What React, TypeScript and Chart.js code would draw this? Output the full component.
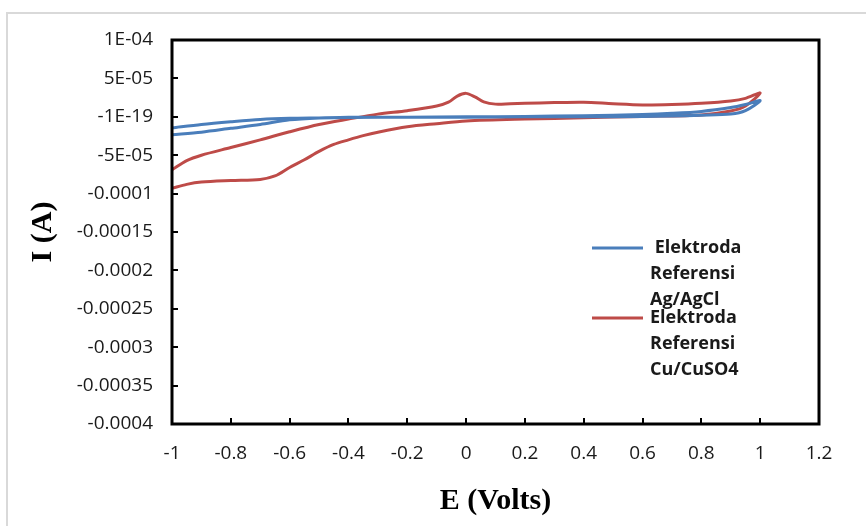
import React, { useEffect, useRef } from "react";
import { Chart, registerables } from "chart.js";

Chart.register(...registerables);

// ---- Data ----
const xTickLabels = ["-1", "-0.8", "-0.6", "-0.4", "-0.2", "0", "0.2", "0.4", "0.6", "0.8", "1", "1.2"];
// bottom -> top
const yTickLabels = ["-0.0004", "-0.00035", "-0.0003", "-0.00025", "-0.0002", "-0.00015", "-0.0001", "-5E-05", "-1E-19", "5E-05", "1E-04"];

const agLegend = [" Elektroda", "Referensi", "Ag/AgCl"];
const cuLegend = ["Elektroda", "Referensi", "Cu/CuSO4"];

// Ag/AgCl cyclic voltammogram (E in V, I in A)
const agE = [-1, -0.9, -0.8, -0.7, -0.6, -0.5, -0.4, -0.3, -0.2, 0, 0.2, 0.4, 0.6, 0.7, 0.8, 0.9, 0.95, 1.0,
  0.95, 0.9, 0.8, 0.7, 0.6, 0.4, 0.2, 0, -0.2, -0.4, -0.5, -0.6, -0.7, -0.8, -0.9, -1];
const agI = [-2.35e-5, -2.0e-5, -1.5e-5, -1.0e-5, -4.0e-6, -1.5e-6, -5e-7, -5e-7, -5e-7, -5e-7, 0, 0, 5e-7, 1e-6, 2e-6, 3.5e-6, 8e-6, 2.1e-5,
  1.6e-5, 1.2e-5, 7e-6, 4.5e-6, 3e-6, 1.5e-6, 5e-7, 0, -5e-7, -1e-6, -1.5e-6, -2e-6, -3.5e-6, -6.5e-6, -1.0e-5, -1.45e-5];

// Cu/CuSO4 cyclic voltammogram
const cuE = [-1, -0.95, -0.9, -0.8, -0.7, -0.65, -0.6, -0.55, -0.5, -0.45, -0.4, -0.35, -0.3, -0.2, -0.1, 0, 0.2, 0.4, 0.6, 0.8, 0.9, 0.95, 1.0,
  0.95, 0.9, 0.8, 0.7, 0.6, 0.5, 0.4, 0.3, 0.2, 0.15, 0.1, 0.06, 0.03, 0, -0.03, -0.06, -0.1, -0.2, -0.3, -0.4, -0.5, -0.6, -0.7, -0.8, -0.9, -0.95, -1];
const cuI = [-9.3e-5, -8.8e-5, -8.5e-5, -8.3e-5, -8.15e-5, -7.7e-5, -6.6e-5, -5.6e-5, -4.5e-5, -3.6e-5, -3.0e-5, -2.45e-5, -2.0e-5, -1.3e-5, -9e-6, -5.5e-6, -3e-6, -1.3e-6, 5e-7, 2.5e-6, 7.5e-6, 1.4e-5, 3.1e-5,
  2.4e-5, 2.05e-5, 1.75e-5, 1.6e-5, 1.55e-5, 1.7e-5, 1.9e-5, 1.85e-5, 1.75e-5, 1.7e-5, 1.65e-5, 1.95e-5, 2.6e-5, 3.05e-5, 2.7e-5, 1.9e-5, 1.4e-5, 8e-6, 3.5e-6, -3e-6, -1.0e-5, -1.95e-5, -3.0e-5, -4.0e-5, -5.0e-5, -5.7e-5, -6.9e-5];

const toPoints = (xs: number[], ys: number[]) => xs.map((x, i) => ({ x, y: ys[i] }));

const BLUE = "#4a7ebb";
const RED = "#be4b48";

const decorPlugin = {
  id: "decor",
  beforeDraw(chart: any) {
    const ctx = chart.ctx;
    ctx.save();
    ctx.fillStyle = "#ffffff";
    ctx.fillRect(0, 0, chart.width, chart.height);
    ctx.strokeStyle = "#d9d9d9";
    ctx.lineWidth = 2;
    ctx.strokeRect(7, 13, chart.width + 20, chart.height + 20);
    ctx.restore();
  },
  afterDraw(chart: any) {
    const ctx = chart.ctx;
    const a = chart.chartArea;
    const xs = chart.scales.x;
    const ys = chart.scales.y;
    ctx.save();
    ctx.strokeStyle = "#000000";
    ctx.lineWidth = 2;
    ctx.beginPath();
    xs.ticks.forEach((t: any) => {
      const px = Math.round(xs.getPixelForValue(t.value));
      ctx.moveTo(px, a.bottom);
      ctx.lineTo(px, a.bottom - 6);
    });
    ys.ticks.forEach((t: any) => {
      const py = Math.round(ys.getPixelForValue(t.value));
      ctx.moveTo(a.left, py);
      ctx.lineTo(a.left + 6, py);
    });
    ctx.stroke();
    ctx.lineWidth = 3;
    ctx.strokeRect(a.left, a.top, a.right - a.left, a.bottom - a.top);

    // legend
    const entries = [
      { lines: agLegend, color: chart.data.datasets[0].borderColor },
      { lines: cuLegend, color: chart.data.datasets[1].borderColor },
    ];
    ctx.font = "bold 18px 'Open Sans'";
    ctx.textBaseline = "middle";
    ctx.textAlign = "left";
    entries.forEach((e, i) => {
      const y0 = 248 + i * 70;
      ctx.strokeStyle = e.color;
      ctx.lineWidth = 3;
      ctx.beginPath();
      ctx.moveTo(592, y0);
      ctx.lineTo(643, y0);
      ctx.stroke();
      ctx.fillStyle = "#1a1a1a";
      e.lines.forEach((ln, j) => ctx.fillText(ln, 650, y0 + j * 26));
    });
    ctx.restore();
  },
};

export default function App() {
  const ref = useRef<HTMLCanvasElement | null>(null);
  useEffect(() => {
    if (!ref.current) return;
    const chart = new Chart(ref.current, {
      type: "scatter",
      data: {
        datasets: [
          {
            label: agLegend.join(" ").trim(),
            data: toPoints(agE, agI),
            showLine: true,
            borderColor: BLUE,
            borderWidth: 3,
            pointRadius: 0,
            tension: 0.3,
          },
          {
            label: cuLegend.join(" "),
            data: toPoints(cuE, cuI),
            showLine: true,
            borderColor: RED,
            borderWidth: 3,
            pointRadius: 0,
            tension: 0.3,
          },
        ],
      },
      options: {
        animation: false,
        responsive: true,
        maintainAspectRatio: false,
        layout: { padding: { left: 0, top: 40, right: 47, bottom: 0 } },
        plugins: { legend: { display: false }, tooltip: { enabled: false } },
        scales: {
          x: {
            type: "linear",
            min: -1,
            max: 1.2,
            grid: { display: false, drawTicks: false },
            border: { display: false },
            ticks: {
              stepSize: 0.2,
              padding: 18,
              color: "#1a1a1a",
              font: { family: "'Open Sans'", size: 19 },
              maxRotation: 0,
              callback: (v: any) => xTickLabels[Math.round((Number(v) + 1) / 0.2)] ?? "",
            },
            title: {
              display: true,
              text: "E (Volts)",
              color: "#000000",
              font: { family: "'Liberation Serif'", size: 30, weight: "bold" },
              padding: { top: 0, bottom: 7 },
            },
            afterFit: (s: any) => { s.height = 102; },
          },
          y: {
            type: "linear",
            min: -0.0004,
            max: 0.0001,
            grid: { display: false, drawTicks: false },
            border: { display: false },
            ticks: {
              stepSize: 0.00005,
              padding: 19,
              color: "#1a1a1a",
              font: { family: "'Open Sans'", size: 19 },
              callback: (v: any) => yTickLabels[Math.round((Number(v) + 0.0004) / 0.00005)] ?? "",
            },
            title: {
              display: true,
              text: "I (A)",
              color: "#000000",
              font: { family: "'Liberation Serif'", size: 30, weight: "bold" },
              padding: { top: 25, bottom: 0 },
            },
            afterFit: (s: any) => { s.width = 172; },
          },
        },
      },
      plugins: [decorPlugin],
    });
    return () => chart.destroy();
  }, []);
  return (
    <div style={{ position: "fixed", left: 0, top: 0, width: 866, height: 526 }}>
      <canvas ref={ref} />
    </div>
  );
}
